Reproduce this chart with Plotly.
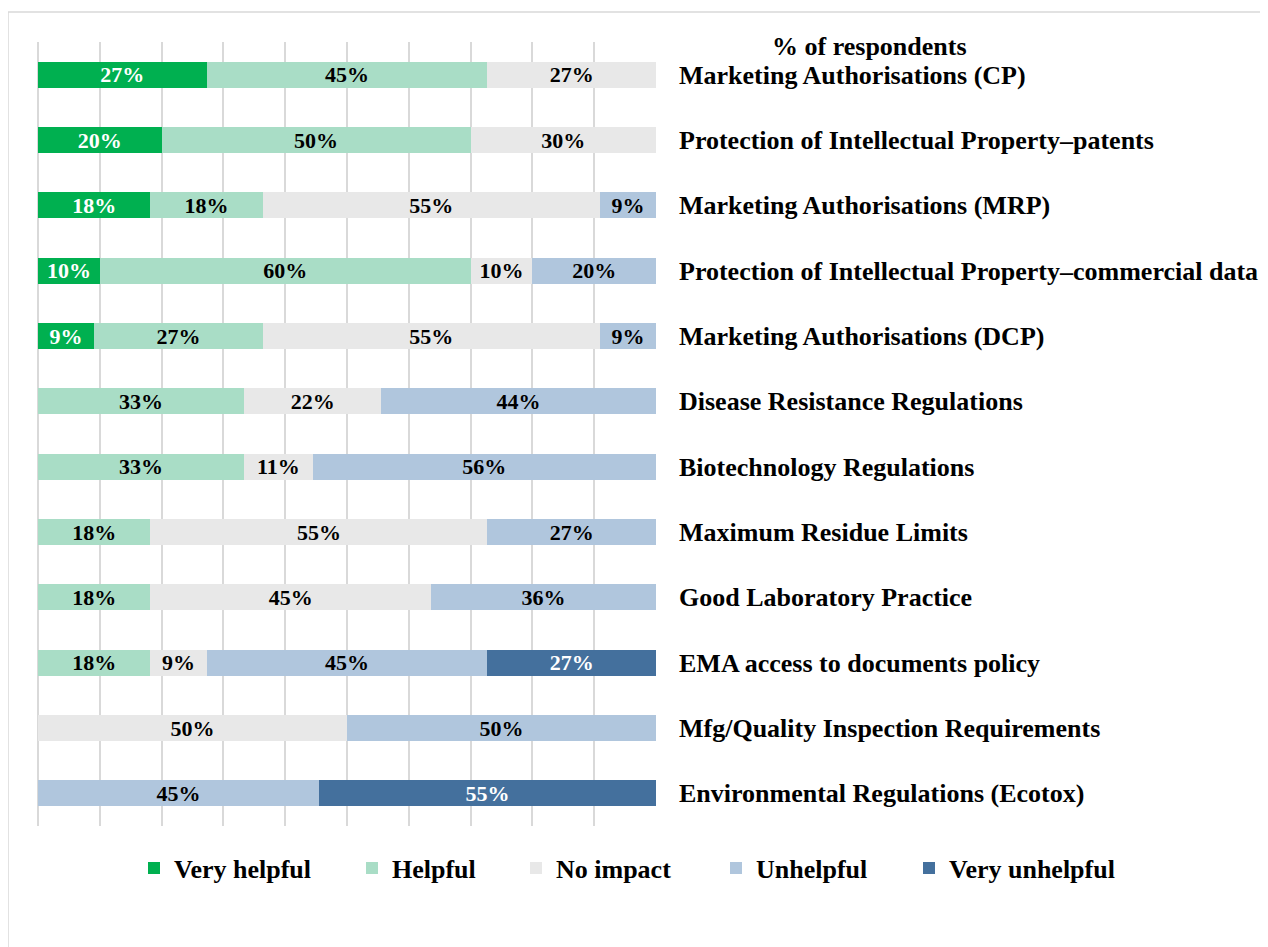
import plotly.graph_objects as go

categories = [
    "Marketing Authorisations (CP)",
    "Protection of Intellectual Property\u2013patents",
    "Marketing Authorisations (MRP)",
    "Protection of Intellectual Property\u2013commercial data",
    "Marketing Authorisations (DCP)",
    "Disease Resistance Regulations",
    "Biotechnology Regulations",
    "Maximum Residue Limits",
    "Good Laboratory Practice",
    "EMA access to documents policy",
    "Mfg/Quality Inspection Requirements",
    "Environmental Regulations (Ecotox)",
]

very_helpful = [27.27, 20, 18.18, 10, 9.09, 0, 0, 0, 0, 0, 0, 0]
helpful = [45.45, 50, 18.18, 60, 27.27, 33.33, 33.33, 18.18, 18.18, 18.18, 0, 0]
no_impact = [27.27, 30, 54.55, 10, 54.55, 22.22, 11.11, 54.55, 45.45, 9.09, 50, 0]
unhelpful = [0, 0, 9.09, 20, 9.09, 44.44, 55.56, 27.27, 36.36, 45.45, 50, 45.45]
very_unhelpful = [0, 0, 0, 0, 0, 0, 0, 0, 0, 27.27, 0, 54.55]

series = [
    ("Very helpful", very_helpful, "#00B050", "white"),
    ("Helpful", helpful, "#A9DDC6", "black"),
    ("No impact", no_impact, "#E8E8E8", "black"),
    ("Unhelpful", unhelpful, "#B0C6DD", "black"),
    ("Very unhelpful", very_unhelpful, "#44709D", "white"),
]

# legend text start positions (screen px) for each series
legend_text_x = [175, 393, 557, 757, 950]

FONT = "Liberation Serif"

OFF = 8  # page offset of the figure inside the browser window
W, H = 1268 - OFF, 947 - OFF
L, R, T, B = 38 - OFF, 656 - OFF, 42 - OFF, 826 - OFF

def px_x(p):
    return (p - OFF - L) / (R - L)

def px_y(p):
    return (B - (p - OFF)) / (B - T)

fig = go.Figure()
legends = {}
for i, (name, vals, color, tcolor) in enumerate(series):
    texts = [f"{v:.0f}%" if v > 0 else "" for v in vals]
    lname = "legend" if i == 0 else f"legend{i + 1}"
    fig.add_trace(go.Bar(
        y=categories, x=vals, name=name, orientation="h",
        marker=dict(color=color, line=dict(width=0)),
        text=texts, textposition="inside", insidetextanchor="middle",
        textangle=0, constraintext="none",
        textfont=dict(family=FONT, size=22, color=tcolor, weight="bold"),
        width=0.4, legend=lname,
    ))
    legends[lname] = dict(
        orientation="h", xref="container", yref="container",
        x=(legend_text_x[i] - OFF - 41) / W, y=1 - (868 - OFF) / H,
        xanchor="left", yanchor="middle", bgcolor="rgba(0,0,0,0)",
        font=dict(family=FONT, size=26, color="black", weight="bold"),
        itemwidth=30,
    )

fig.update_layout(
    barmode="stack",
    width=W, height=H,
    margin=dict(l=L, r=W - R, t=T, b=H - B, autoexpand=False),
    paper_bgcolor="white", plot_bgcolor="white",
    font=dict(family=FONT, color="black"),
    showlegend=True,
    xaxis=dict(range=[0, 100], dtick=10, showgrid=True, gridcolor="#D9D9D9",
               gridwidth=2, showticklabels=False, zeroline=True,
               zerolinecolor="#D9D9D9", zerolinewidth=2, showline=False,
               fixedrange=True, automargin=False),
    yaxis=dict(autorange="reversed", side="right", showgrid=False,
               ticks="", ticklabelstandoff=22, automargin=False,
               tickfont=dict(family=FONT, size=26, color="black", weight="bold")),
    annotations=[dict(text="% of respondents", xref="paper", yref="paper",
                      x=px_x(869), y=px_y(47), xanchor="center", yanchor="middle",
                      showarrow=False,
                      font=dict(family=FONT, size=26, color="black", weight="bold"))],
    shapes=[dict(type="rect", xref="paper", yref="paper",
                 x0=px_x(8), x1=px_x(1300), y0=px_y(990), y1=px_y(12),
                 line=dict(color="#D9D9D9", width=1.5), fillcolor="rgba(0,0,0,0)",
                 layer="below")],
    **legends,
)

fig.write_html("out.html")
